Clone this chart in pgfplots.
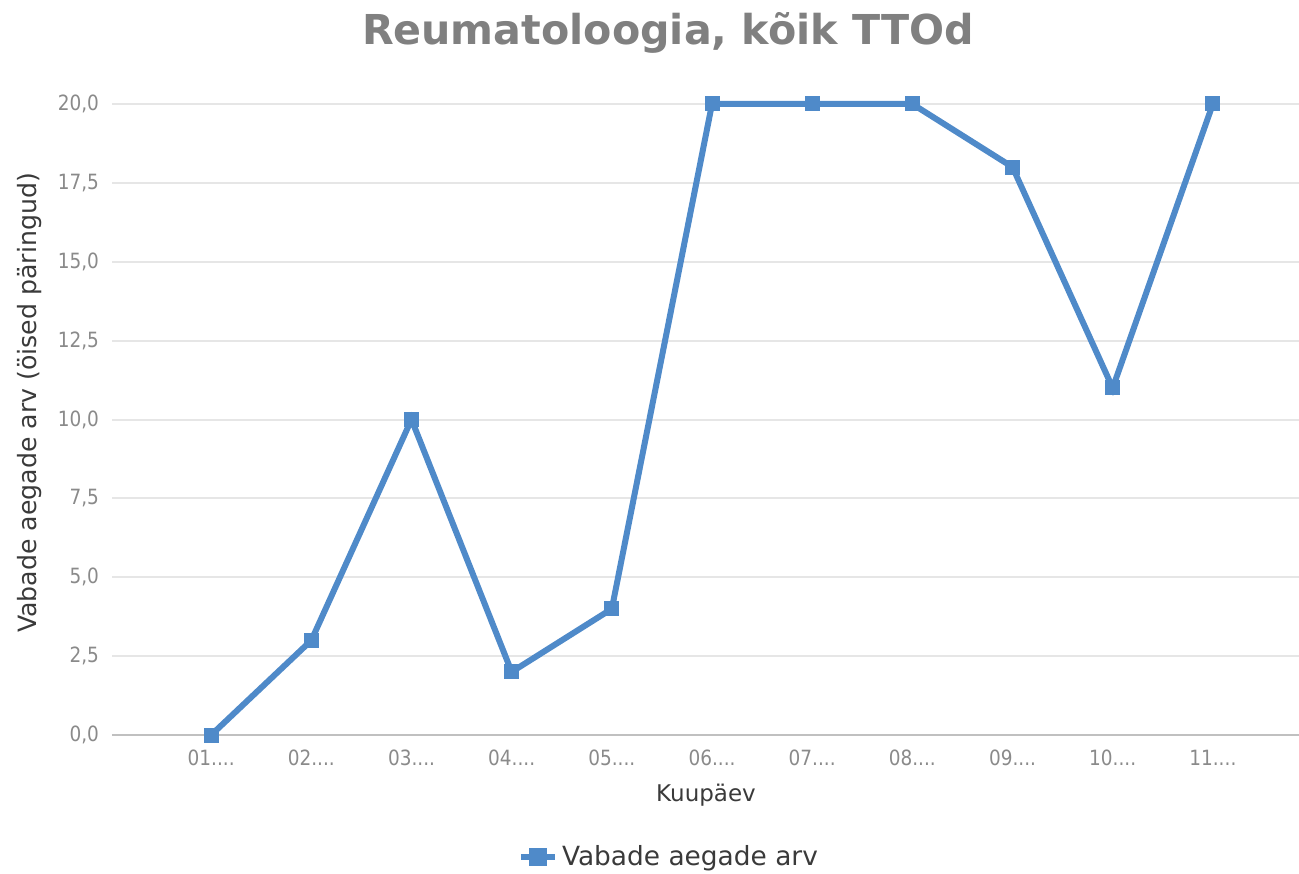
\documentclass[border=0pt]{standalone}
\usepackage{pgfplots}
\pgfplotsset{compat=1.18}
\usepackage{fontspec}
\setmainfont{DejaVu Sans}
\newfontfamily\tickfont[FakeStretch=0.88]{DejaVu Sans}
\definecolor{lineblue}{HTML}{4F8AC9}
\definecolor{gridgray}{HTML}{E6E6E6}
\definecolor{axisgray}{HTML}{C0C0C0}
\definecolor{tickgray}{HTML}{8A8A8A}
\definecolor{titlegray}{HTML}{808080}
\definecolor{labeldark}{HTML}{3A3A3A}
\newcommand{\dd}{.{}.{}.{}.}
\begin{document}
\begin{tikzpicture}[x=1pt,y=1pt]
\useasboundingbox (-56,-69) rectangle (593.5,367.5);
\begin{axis}[
  at={(0,0)}, anchor=south west,
  scale only axis, width=593.5pt, height=315.5pt,
  xmin=-0.99, xmax=10.86, ymin=0, ymax=20,
  clip=false,
  axis line style={draw=none},
  axis x line*=bottom,
  axis y line*=left,
  /pgf/number format/assume math mode=true,
  ytick={0,2.5,5,7.5,10,12.5,15,17.5,20},
  yticklabel style={font=\tickfont\fontsize{10.5}{12}\selectfont, text=tickgray, xshift=-3pt},
  yticklabel={\pgfmathprintnumber[fixed,fixed zerofill,precision=1,use comma,assume math mode=true]{\tick}},
  xtick={0,1,2,3,4,5,6,7,8,9,10},
  xticklabels={{01\dd},{02\dd},{03\dd},{04\dd},{05\dd},{06\dd},{07\dd},{08\dd},{09\dd},{10\dd},{11\dd}},
  xticklabel style={font=\tickfont\fontsize{10.5}{12}\selectfont, text=tickgray, yshift=-4pt},
  ymajorgrids, grid style={gridgray, line width=1pt},
  major tick length=0pt,
  legend style={at={(0.47,-0.193)}, anchor=center, draw=none, fill=none,
    font=\fontsize{13.2}{15}\selectfont, text=labeldark,
    legend cell align=left, inner sep=0pt},
  legend image code/.code={
    \draw[lineblue, line width=3pt] (0cm,0cm) -- (0.6cm,0cm);
    \fill[lineblue] (0.3cm-3pt,-3pt) rectangle (0.3cm+3pt,3pt);
  },
]
\draw[axisgray, line width=1pt] (rel axis cs:0,0) -- (rel axis cs:1,0);
\addplot[lineblue, line width=3pt, mark=square*, mark size=3.5pt, mark options={fill=lineblue, draw=lineblue, line width=0pt}]
  coordinates {(0,0) (1,3) (2,10) (3,2) (4,4) (5,20) (6,20) (7,20) (8,18) (9,11) (10,20)};
\addlegendentry{Vabade aegade arv}
\end{axis}
\node[font=\bfseries\fontsize{20.6}{24}\selectfont, text=titlegray] at (278,351) {Reumatoloogia, kõik TTOd};
\node[font=\fontsize{11.5}{13}\selectfont, text=labeldark] at (297,-30) {Kuupäev};
\node[font=\fontsize{12.6}{14}\selectfont, text=labeldark, rotate=90] at (-41,166) {Vabade aegade arv (öised päringud)};
\end{tikzpicture}
\end{document}
